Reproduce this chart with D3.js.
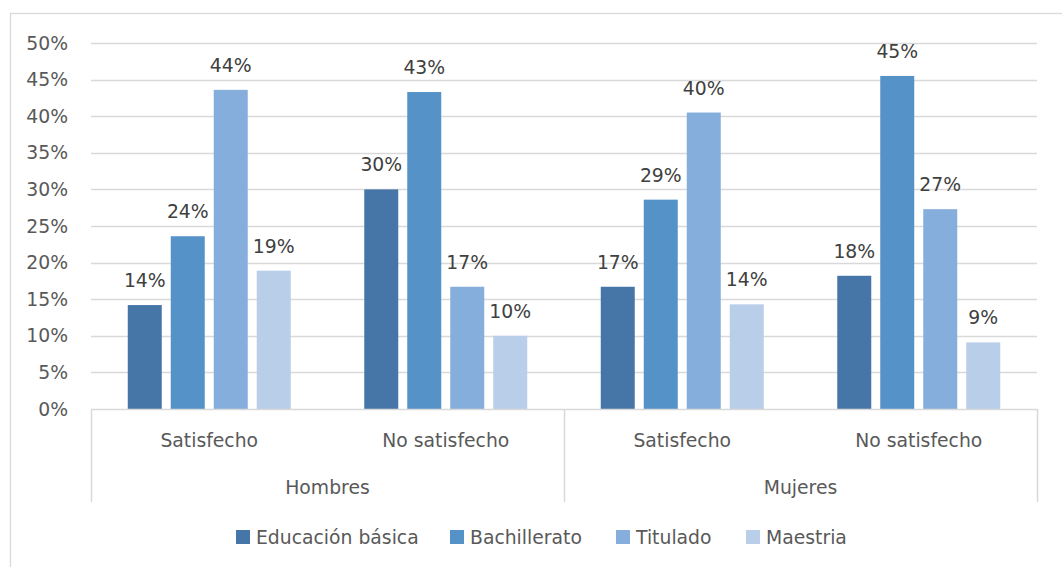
<!DOCTYPE html>
<html>
<head>
<meta charset="utf-8">
<script src="https://cdn.jsdelivr.net/npm/d3@7"></script>
<style>
  html, body { margin: 0; padding: 0; background: #fff; }
  text { font-family: "DejaVu Sans", sans-serif; }
</style>
</head>
<body>
<svg id="chart" width="1062" height="567"></svg>
<script>
const groups = ["Hombres", "Mujeres"];
const subCategories = ["Satisfecho", "No satisfecho"];
const seriesNames = ["Educación básica", "Bachillerato", "Titulado", "Maestria"];
const educacionBasica = [14.2, 30.0, 16.7, 18.2];
const bachillerato = [23.6, 43.3, 28.6, 45.5];
const titulado = [43.6, 16.7, 40.5, 27.3];
const maestria = [18.9, 10.0, 14.3, 9.1];
const valueLabels = [
  ["14%", "30%", "17%", "18%"],
  ["24%", "43%", "29%", "45%"],
  ["44%", "17%", "40%", "27%"],
  ["19%", "10%", "14%", "9%"]
];
const yTicks = [0, 5, 10, 15, 20, 25, 30, 35, 40, 45, 50];
const colors = ["#4676A8", "#5592C8", "#86AEDC", "#B8CEE9"];

const seriesValues = [educacionBasica, bachillerato, titulado, maestria];
const categories = [];
groups.forEach(g => subCategories.forEach(s => categories.push(g + "|" + s)));

const svg = d3.select("#chart");
const plotLeft = 91, plotRight = 1037, plotTop = 43, plotBottom = 409;
const textColor = "#595959";
const gridColor = "#D9D9D9";
const fs = "18.8px";

// outer chart border
svg.append("rect").attr("x", 10.5).attr("y", 13.5).attr("width", 1060).attr("height", 560)
  .attr("fill", "none").attr("stroke", gridColor).attr("stroke-width", 1.3);

const y = d3.scaleLinear().domain([0, 50]).range([plotBottom, plotTop]);
const x0 = d3.scaleBand().domain(categories).range([plotLeft, plotRight]).padding(0);
const x1 = d3.scaleBand().domain(seriesNames).range([0, x0.bandwidth()])
  .paddingInner(9 / 43).paddingOuter(0.855);
const xg = d3.scaleBand().domain(groups).range([plotLeft, plotRight]).padding(0);

// gridlines
svg.append("g").selectAll("line").data(yTicks.filter(d => d > 0)).join("line")
  .attr("x1", plotLeft).attr("x2", plotRight)
  .attr("y1", d => Math.round(y(d)) + 0.5).attr("y2", d => Math.round(y(d)) + 0.5)
  .attr("stroke", gridColor).attr("stroke-width", 1.3);

// y axis labels
const yAxis = d3.axisLeft(y).tickValues(yTicks).tickFormat(d => d + "%").tickSize(0).tickPadding(23);
const ya = svg.append("g").attr("transform", `translate(${plotLeft},0)`).call(yAxis);
ya.select(".domain").remove();
ya.selectAll("text").attr("fill", textColor).style("font-size", fs).style("font-family", "DejaVu Sans");

// bars
const barG = svg.append("g");
seriesNames.forEach((name, si) => {
  barG.append("g").selectAll("rect").data(seriesValues[si]).join("rect")
    .attr("x", (d, i) => x0(categories[i]) + x1(name))
    .attr("y", d => y(d))
    .attr("width", x1.bandwidth())
    .attr("height", d => y(0) - y(d))
    .attr("fill", colors[si]);
  barG.append("g").selectAll("text").data(seriesValues[si]).join("text")
    .attr("x", (d, i) => x0(categories[i]) + x1(name) + x1.bandwidth() / 2)
    .attr("y", d => y(d) - 18)
    .attr("text-anchor", "middle")
    .attr("fill", "#404040")
    .style("font-size", fs)
    .text((d, i) => valueLabels[si][i]);
});

// x axis line
svg.append("line").attr("x1", plotLeft).attr("x2", plotRight)
  .attr("y1", plotBottom + 0.5).attr("y2", plotBottom + 0.5)
  .attr("stroke", gridColor).attr("stroke-width", 1.5);

// group separators
const seps = [plotLeft, xg(groups[1]), plotRight];
svg.append("g").selectAll("line").data(seps).join("line")
  .attr("x1", d => d + 0.5).attr("x2", d => d + 0.5)
  .attr("y1", plotBottom).attr("y2", 502)
  .attr("stroke", gridColor).attr("stroke-width", 1.5);

// sub category labels
svg.append("g").selectAll("text").data(categories).join("text")
  .attr("x", d => x0(d) + x0.bandwidth() / 2)
  .attr("y", 447)
  .attr("text-anchor", "middle")
  .attr("fill", textColor)
  .style("font-size", fs)
  .text(d => d.split("|")[1]);

// group labels
svg.append("g").selectAll("text").data(groups).join("text")
  .attr("x", d => xg(d) + xg.bandwidth() / 2)
  .attr("y", 494)
  .attr("text-anchor", "middle")
  .attr("fill", textColor)
  .style("font-size", fs)
  .text(d => d);

// legend
const legendX = [236, 450, 616, 746];
const lg = svg.append("g");
seriesNames.forEach((name, i) => {
  lg.append("rect").attr("x", legendX[i]).attr("y", 530).attr("width", 14).attr("height", 14)
    .attr("fill", colors[i]);
  lg.append("text").attr("x", legendX[i] + 20).attr("y", 544)
    .attr("fill", textColor).style("font-size", fs).text(name);
});
</script>
</body>
</html>
